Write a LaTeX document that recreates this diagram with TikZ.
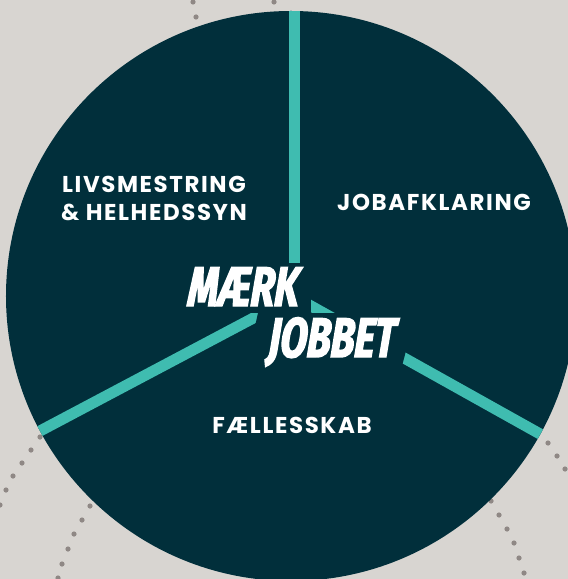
\documentclass[tikz,border=0pt]{standalone}
\usepackage{fontspec}
\setmainfont{Poppins}
\newfontfamily\sectorfont{Poppins}[LetterSpace=7]
\newfontfamily\logofont{Fira Sans}[FakeStretch=0.7,FakeBold=2.6,FakeSlant=0.07]
\definecolor{bgc}{HTML}{D8D5D1}
\definecolor{navy}{HTML}{012F3B}
\definecolor{spokec}{HTML}{3FBCB0}
\definecolor{dotc}{HTML}{8F8885}
\begin{document}
\begin{tikzpicture}[x=1bp,y=-1bp,
  sector/.style={text=white,font=\sectorfont\bfseries\fontsize{23}{29}\selectfont,align=center,inner sep=0pt},
  logo/.style={text=white,font=\logofont\bfseries\itshape\fontsize{56}{56}\selectfont,inner sep=0pt},
  spoke/.style={draw=spokec,line width=11bp},
  knock/.style={fill=navy},
  dot/.style={fill=dotc}]
\fill[bgc] (0,0) rectangle (568,579);
\useasboundingbox (0,0) rectangle (568,579);
% dotted background curves
\foreach \p in {(193,2),(196,17),(274,2),
  (40,437),(31,450),(22,463),(13,476),(6,490),(0,505),
  (90,506),(82,520),(74,534),(68,549),(62,564),(58,578),
  (548,443),(557,456),(565,469),
  (491,501),(499,515),(507,529),(514,543),(519,558),(524,573)}
  \fill[dot] \p circle[radius=2.6bp];
% main disc
\fill[navy] (291,296) circle[radius=285bp];
\begin{scope}
  \clip (291,296) circle[radius=285bp];
  \coordinate (hub) at (294,296.5);
  \coordinate (endtop) at (294,-20);
  \coordinate (endleft) at (-11,458);
  \coordinate (endright) at (592,463);
  \draw[spoke] (hub) -- (endtop);
  \draw[spoke] (hub) -- (endleft);
  \draw[spoke] (hub) -- (endright);
\end{scope}
% knock-outs around the logo
\fill[knock] (178,263) -- (311,263) -- (311,313) -- (178,313) -- cycle;
\fill[knock] (258,313) -- (416,313) -- (402,366) -- (246,366) -- cycle;
% logo
\node[logo,anchor=base] (maerk) at (242.5,306) {MÆRK};
\node[logo,anchor=base] (jobbet) at (331,357) {JOBBET};
% sector labels
\node[sector] (livs) at (154,198.5) {LIVSMESTRING\\\& HELHEDSSYN};
\node[sector] (job) at (434,202) {JOBAFKLARING};
\node[sector] (faelles) at (292,425) {FÆLLESSKAB};
\end{tikzpicture}
\end{document}
